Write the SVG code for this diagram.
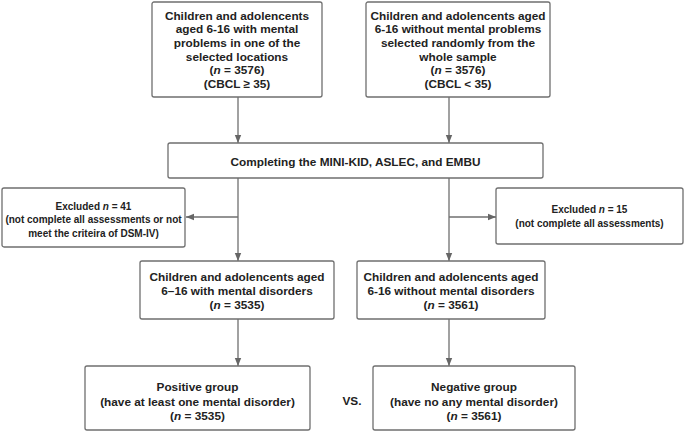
<svg xmlns="http://www.w3.org/2000/svg" width="685" height="432" viewBox="0 0 685 432">
<defs>
<marker id="ah" viewBox="0 0 10 10" refX="10" refY="5" markerWidth="8" markerHeight="8" markerUnits="userSpaceOnUse" orient="auto">
<path d="M0,1 L10,5 L0,9 Z" fill="#666"/>
</marker>
<style>
.box{fill:#fff;stroke:#6f6f6f;stroke-width:1.3}
.t{font-family:"Liberation Sans",Arial,sans-serif;font-weight:bold;font-size:11.8px;fill:#222;text-anchor:middle}
.s{font-size:10px}
.c{stroke:#6f6f6f;stroke-width:1.3;fill:none;marker-end:url(#ah)}
</style>
</defs>
<rect width="685" height="432" fill="#fff"/>
<g id="connectors">
<line class="c" x1="238" y1="97" x2="238" y2="143"/>
<line class="c" x1="449" y1="97" x2="449" y2="143"/>
<line class="c" x1="238" y1="178" x2="238" y2="261"/>
<line class="c" x1="449" y1="178" x2="449" y2="261"/>
<line class="c" x1="238" y1="217" x2="186" y2="217"/>
<line class="c" x1="449" y1="217" x2="496" y2="217"/>
<line class="c" x1="238" y1="319" x2="238" y2="366"/>
<line class="c" x1="449" y1="319" x2="449" y2="366"/>
</g>
<g id="n1">
<rect class="box" x="152" y="2" width="170" height="95" rx="2"/>
<text class="t" x="237" y="19.5">Children and adolencents</text>
<text class="t" x="237" y="33.2">aged 6-16 with mental</text>
<text class="t" x="237" y="46.9">problems in one of the</text>
<text class="t" x="237" y="60.6">selected locations</text>
<text class="t" x="237" y="74.3">(<tspan font-style="italic">n</tspan> = 3576)</text>
<text class="t" x="237" y="88">(CBCL ≥ 35)</text>
</g>
<g id="n2">
<rect class="box" x="366" y="2" width="184" height="95" rx="2"/>
<text class="t" x="458" y="19.5">Children and adolencents aged</text>
<text class="t" x="458" y="33.2">6-16 without mental problems</text>
<text class="t" x="458" y="46.9">selected randomly from the</text>
<text class="t" x="458" y="60.6">whole sample</text>
<text class="t" x="458" y="74.3">(<tspan font-style="italic">n</tspan> = 3576)</text>
<text class="t" x="458" y="88">(CBCL &lt; 35)</text>
</g>
<g id="n3">
<rect class="box" x="168" y="143" width="375" height="35" rx="2"/>
<text class="t" x="355.5" y="166">Completing the MINI-KID, ASLEC, and EMBU</text>
</g>
<g id="n4">
<rect class="box" x="2" y="188" width="183" height="59" rx="2"/>
<text class="t s" x="93.5" y="209.5">Excluded <tspan font-style="italic">n</tspan> = 41</text>
<text class="t s" x="93.5" y="223">(not complete all assessments or not</text>
<text class="t s" x="93.5" y="236.5">meet the criteira of DSM-IV)</text>
</g>
<g id="n5">
<rect class="box" x="496" y="188" width="187" height="56" rx="2"/>
<text class="t s" x="589.5" y="213">Excluded <tspan font-style="italic">n</tspan> = 15</text>
<text class="t s" x="589.5" y="226.5">(not complete all assessments)</text>
</g>
<g id="n6">
<rect class="box" x="140" y="261" width="194" height="58" rx="2"/>
<text class="t" x="237" y="281">Children and adolencents aged</text>
<text class="t" x="237" y="295">6–16 with mental disorders</text>
<text class="t" x="237" y="309">(<tspan font-style="italic">n</tspan> = 3535)</text>
</g>
<g id="n7">
<rect class="box" x="357" y="261" width="188" height="58" rx="2"/>
<text class="t" x="451" y="281">Children and adolencents aged</text>
<text class="t" x="451" y="295">6-16 without mental disorders</text>
<text class="t" x="451" y="309">(<tspan font-style="italic">n</tspan> = 3561)</text>
</g>
<g id="n8">
<rect class="box" x="85" y="366" width="225" height="64" rx="2"/>
<text class="t" x="197.5" y="391">Positive group</text>
<text class="t" x="197.5" y="405.5">(have at least one mental disorder)</text>
<text class="t" x="197.5" y="419.5">(<tspan font-style="italic">n</tspan> = 3535)</text>
</g>
<g id="vs">
<text class="t" x="352" y="405">VS.</text>
</g>
<g id="n9">
<rect class="box" x="373" y="366" width="202" height="64" rx="2"/>
<text class="t" x="474" y="391">Negative group</text>
<text class="t" x="474" y="405.5">(have no any mental disorder)</text>
<text class="t" x="474" y="419.5">(<tspan font-style="italic">n</tspan> = 3561)</text>
</g>
</svg>
